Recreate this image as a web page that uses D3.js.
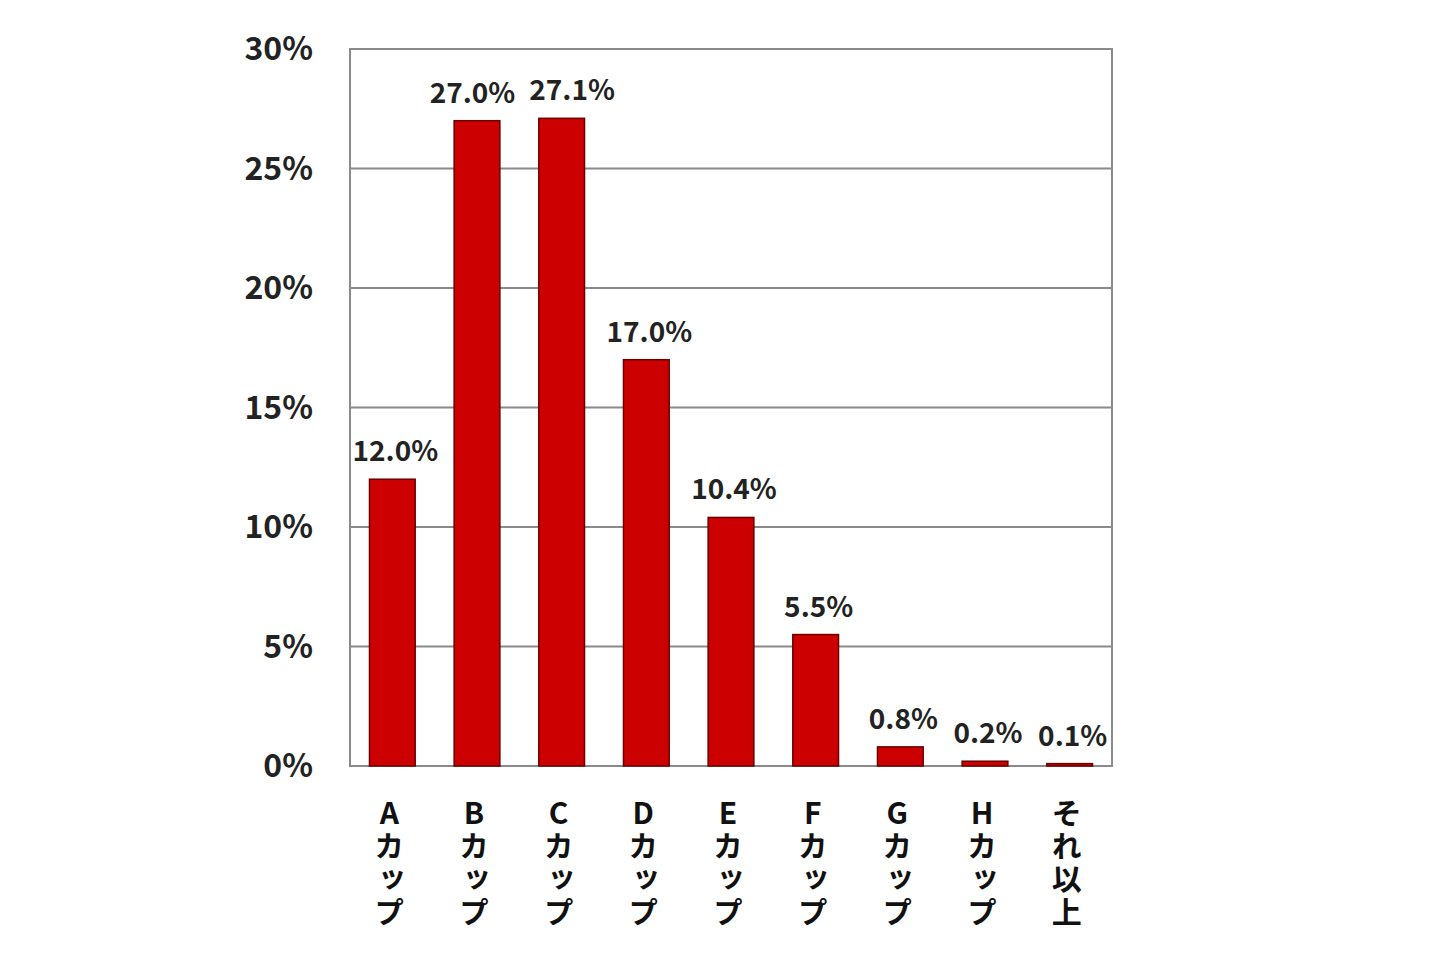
<!DOCTYPE html>
<html>
<head>
<meta charset="utf-8">
<script src="https://cdn.jsdelivr.net/npm/d3@7"></script>
<style>
  body { margin: 0; background: #fff; }
  text { font-family: "Noto Sans CJK JP", "Noto Sans", sans-serif; font-weight: bold; }
  .cat { writing-mode: vertical-rl; text-orientation: upright; }
</style>
</head>
<body>
<div id="chart"></div>
<script>
const categories = ["Aカップ", "Bカップ", "Cカップ", "Dカップ", "Eカップ", "Fカップ", "Gカップ", "Hカップ", "それ以上"];
const shares = [12.0, 27.0, 27.1, 17.0, 10.4, 5.5, 0.8, 0.2, 0.1];
const yTicks = [0, 5, 10, 15, 20, 25, 30];

const width = 1440, height = 960;
const plot = { left: 350, right: 1112, top: 49, bottom: 766 };

const svg = d3.select("#chart").append("svg")
    .attr("width", width)
    .attr("height", height);

const x = d3.scaleBand()
    .domain(categories)
    .range([plot.left, plot.right])
    .paddingInner(0.46)
    .paddingOuter(0.23);

const y = d3.scaleLinear()
    .domain([0, 30])
    .range([plot.bottom, plot.top]);

// gridlines
svg.append("g")
    .selectAll("line")
    .data(yTicks)
    .join("line")
    .attr("x1", plot.left)
    .attr("x2", plot.right)
    .attr("y1", d => y(d))
    .attr("y2", d => y(d))
    .attr("stroke", "#8a8a8a")
    .attr("stroke-width", 2);

// frame
svg.append("rect")
    .attr("x", plot.left)
    .attr("y", plot.top)
    .attr("width", plot.right - plot.left)
    .attr("height", plot.bottom - plot.top)
    .attr("fill", "none")
    .attr("stroke", "#8a8a8a")
    .attr("stroke-width", 2);

// y tick labels
svg.append("g")
    .selectAll("text")
    .data(yTicks)
    .join("text")
    .attr("x", 313)
    .attr("y", d => y(d) + 11)
    .attr("text-anchor", "end")
    .attr("font-size", 32)
    .attr("fill", "#222")
    .text(d => d + "%");

// bars
svg.append("g")
    .selectAll("rect")
    .data(shares)
    .join("rect")
    .attr("x", (d, i) => x(categories[i]))
    .attr("y", d => y(d))
    .attr("width", x.bandwidth())
    .attr("height", d => plot.bottom - y(d))
    .attr("fill", "#cc0000")
    .attr("stroke", "#6a0000")
    .attr("stroke-width", 1.5);

// value labels
const labels = svg.append("g")
    .selectAll("text")
    .data(shares)
    .join("text")
    .attr("x", (d, i) => x(categories[i]) + x.bandwidth() / 2 + 3)
    .attr("y", d => y(d) - 18)
    .attr("text-anchor", "middle")
    .attr("font-size", 28)
    .attr("fill", "#222")
    .text(d => d.toFixed(1) + "%");

// push apart neighbouring labels that sit at the same height and collide
const nodes = labels.nodes();
for (let i = 1; i < nodes.length; i++) {
    const a = nodes[i - 1], b = nodes[i];
    const ax = +a.getAttribute("x"), bx = +b.getAttribute("x");
    if (Math.abs(+a.getAttribute("y") - +b.getAttribute("y")) > 30) continue;
    const need = (a.getComputedTextLength() + b.getComputedTextLength()) / 2 + 14;
    const overlap = need - (bx - ax);
    if (overlap > 0) {
        a.setAttribute("x", ax - overlap / 2);
        b.setAttribute("x", bx + overlap / 2);
    }
}

// category labels, written top to bottom
svg.append("g")
    .selectAll("text")
    .data(categories)
    .join("text")
    .attr("class", "cat")
    .attr("x", d => x(d) + x.bandwidth() / 2 - 3)
    .attr("y", 798)
    .attr("font-size", 30)
    .attr("letter-spacing", 3)
    .attr("fill", "#111")
    .text(d => d);
</script>
</body>
</html>
